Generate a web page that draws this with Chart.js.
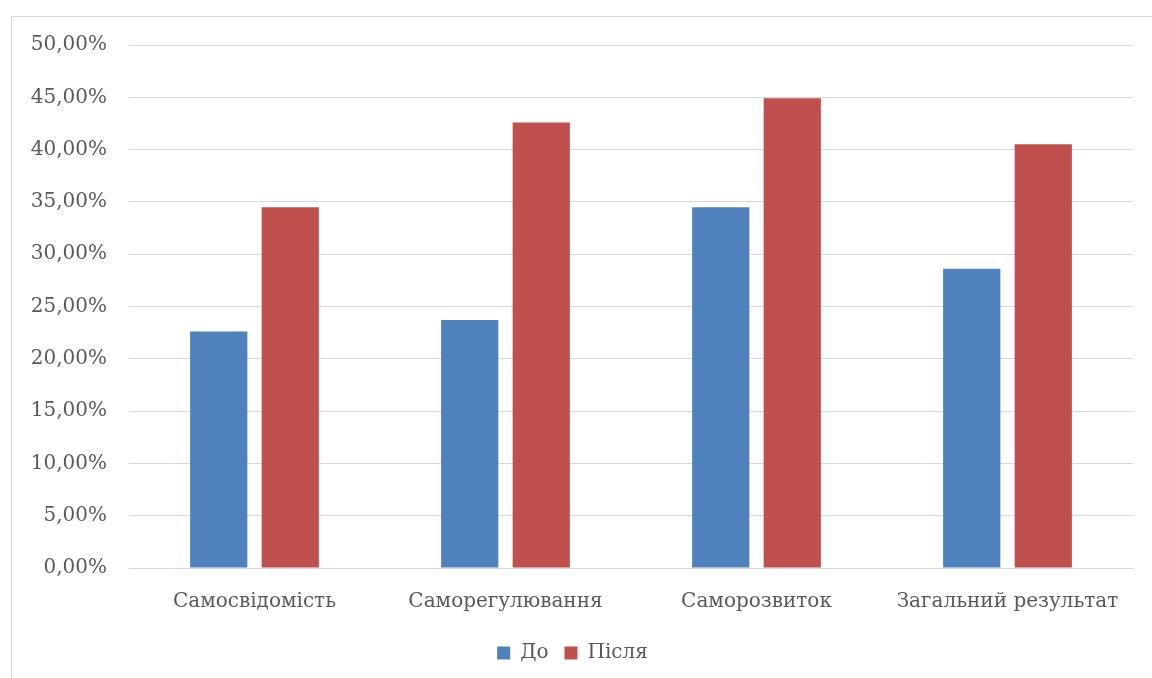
<!DOCTYPE html>
<html>
<head>
<meta charset="utf-8">
<script src="https://cdn.jsdelivr.net/npm/chart.js@4/dist/chart.umd.min.js"></script>
<style>
  html, body { margin: 0; padding: 0; background: #ffffff; }
  #wrap { position: relative; width: 1152px; height: 678px; overflow: hidden; }
  #frame { position: absolute; left: 11px; top: 16px; width: 1200px; height: 700px;
           border-left: 1px solid #d9d9d9; border-top: 1px solid #d9d9d9; }
  canvas { position: absolute; left: 0; top: 0; }
</style>
</head>
<body>
<div id="wrap">
  <div id="frame"></div>
  <canvas id="chart" width="1152" height="678"></canvas>
</div>
<script>
// Categories and series (percent values)
const categories = ['Самосвідомість', 'Саморегулювання', 'Саморозвиток', 'Загальний результат'];
const seriesNames = ['До', 'Після'];
const beforeValues = [22.6, 23.7, 34.5, 28.6];
const afterValues = [34.5, 42.6, 44.9, 40.5];
const yMax = 50;
const yStep = 5;

const textColor = '#595959';
const fontFamily = '"DejaVu Serif", serif';
const fontSize = 20;

function formatPercent(v) {
  return v.toFixed(2).replace('.', ',') + '%';
}

new Chart(document.getElementById('chart'), {
  type: 'bar',
  data: {
    labels: categories,
    datasets: [
      { label: seriesNames[0], data: beforeValues, backgroundColor: '#4f81bd',
        categoryPercentage: 0.57, barPercentage: 0.8 },
      { label: seriesNames[1], data: afterValues, backgroundColor: '#c0504d',
        categoryPercentage: 0.57, barPercentage: 0.8 }
    ]
  },
  options: {
    responsive: false,
    animation: false,
    devicePixelRatio: 1,
    layout: { padding: { left: 12, right: 19, top: 45, bottom: 5 } },
    plugins: {
      legend: {
        position: 'bottom',
        labels: {
          color: textColor,
          font: { family: fontFamily, size: fontSize },
          boxWidth: 13, boxHeight: 13, padding: 16
        }
      },
      tooltip: { enabled: false }
    },
    scales: {
      x: {
        afterFit: (axis) => { axis.height = 59; },
        grid: { display: false, drawTicks: false },
        border: { display: true, color: '#d9d9d9', width: 1 },
        ticks: { color: textColor, font: { family: fontFamily, size: fontSize }, padding: 22 }
      },
      y: {
        min: 0, max: yMax,
        afterFit: (axis) => { axis.width = 117; },
        grid: { color: '#d9d9d9', lineWidth: 1, drawTicks: false },
        border: { display: false },
        ticks: {
          stepSize: yStep,
          color: textColor,
          font: { family: fontFamily, size: fontSize },
          padding: 22,
          callback: (v) => formatPercent(v)
        }
      }
    }
  }
});
</script>
</body>
</html>
